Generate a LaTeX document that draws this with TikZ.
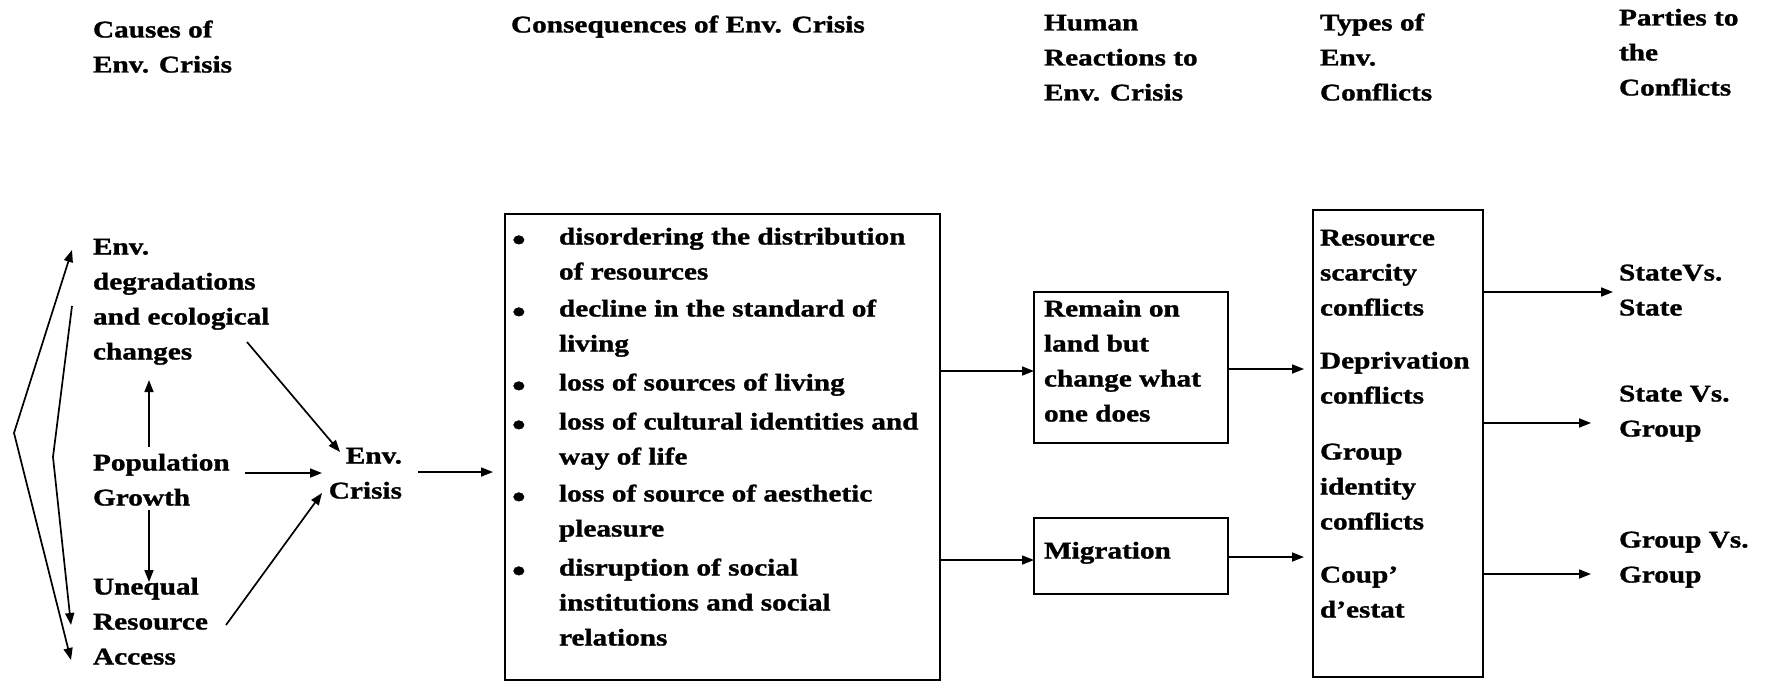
\documentclass[tikz,border=0pt]{standalone}
\usepackage{fontspec}
\setmainfont{Liberation Serif}[FakeStretch=1.22,FakeBold=1.2]
\usetikzlibrary{arrows.meta}
\begin{document}
\begin{tikzpicture}[x=1pt,y=-1pt,
  txt/.style={font=\fontsize{24}{35}\selectfont\bfseries, inner sep=0pt, outer sep=0pt, align=left, anchor=north west},
  bul/.style={font=\fontsize{32}{35}\selectfont\bfseries, inner sep=0pt, outer sep=0pt, anchor=north west},
  boxx/.style={draw, line width=1.7pt, inner sep=0pt, outer sep=0pt, anchor=north west},
  arr/.style={line width=1.7pt, -{Triangle[length=12pt,width=9pt]}},
  darr/.style={line width=1.7pt, {Triangle[length=12pt,width=9pt]}-{Triangle[length=12pt,width=9pt]}}]
\useasboundingbox (0,0) rectangle (1770,682);

% headers
\node[txt] (hc) at (93,13) {\strut Causes of\\Env. Crisis};
\node[txt] (hq) at (511,8) {\strut Consequences of Env. Crisis};
\node[txt] (hh) at (1044,6) {\strut Human\\Reactions to\\Env. Crisis};
\node[txt] (ht) at (1320,6) {\strut Types of\\Env.\\Conflicts};
\node[txt] (hp) at (1619,1) {\strut Parties to\\the\\Conflicts};

% causes
\node[txt] (deg) at (93,230) {\strut Env.\\degradations\\and ecological\\changes};
\node[txt] (pop) at (93,446) {\strut Population\\Growth};
\node[txt] (uneq) at (93,570) {\strut Unequal\\Resource\\Access};
\node[txt, align=right, anchor=north east] (crisis) at (402,439) {\strut Env.\\Crisis};

% consequences box
\node[boxx, minimum width=435pt, minimum height=466pt] (cons) at (505,214) {};
\node[bul] (b1) at (512,226) {\strut\textbullet};
\node[txt] (c1) at (559,220) {\strut disordering the distribution\\of resources};
\node[bul] (b2) at (512,298) {\strut\textbullet};
\node[txt] (c2) at (559,292) {\strut decline in the standard of\\living};
\node[bul] (b3) at (512,372) {\strut\textbullet};
\node[txt] (c3) at (559,366) {\strut loss of sources of living};
\node[bul] (b4) at (512,411) {\strut\textbullet};
\node[txt] (c4) at (559,405) {\strut loss of cultural identities and\\way of life};
\node[bul] (b5) at (512,483) {\strut\textbullet};
\node[txt] (c5) at (559,477) {\strut loss of source of aesthetic\\pleasure};
\node[bul] (b6) at (512,557) {\strut\textbullet};
\node[txt] (c6) at (559,551) {\strut disruption of social\\institutions and social\\relations};

% reactions
\node[boxx, minimum width=194pt, minimum height=151pt] (rbox) at (1034,292) {};
\node[txt] (rtxt) at (1044,292) {\strut Remain on\\land but\\change what\\one does};
\node[boxx, minimum width=194pt, minimum height=76pt] (mbox) at (1034,518) {};
\node[txt] (mtxt) at (1044,534) {\strut Migration};

% types
\node[boxx, minimum width=170pt, minimum height=467pt] (tbox) at (1313,210) {};
\node[txt] (t1) at (1320,221) {\strut Resource\\scarcity\\conflicts};
\node[txt] (t2) at (1320,344) {\strut Deprivation\\conflicts};
\node[txt] (t3) at (1320,435) {\strut Group\\identity\\conflicts};
\node[txt] (t4) at (1320,558) {\strut Coup'\\d'estat};

% parties
\node[txt] (p1) at (1619,256) {\strut StateVs.\\State};
\node[txt] (p2) at (1619,377) {\strut State Vs.\\Group};
\node[txt] (p3) at (1619,523) {\strut Group Vs.\\Group};

% left connectors
\coordinate (o1) at (72,250); \coordinate (ov) at (14,433); \coordinate (o2) at (71,660);
\draw[darr] (o1) -- (ov) -- (o2);
\coordinate (i1) at (72,306); \coordinate (iv) at (53,457); \coordinate (i2) at (71,625);
\draw[arr] (i1) -- (iv) -- (i2);
\coordinate (pu1) at (149,447); \coordinate (pu2) at (149,380);
\draw[arr] (pu1) -- (pu2);
\coordinate (pd1) at (149,510); \coordinate (pd2) at (149,582);
\draw[arr] (pd1) -- (pd2);
\coordinate (dc1) at (247,342); \coordinate (dc2) at (340,452);
\draw[arr] (dc1) -- (dc2);
\coordinate (pc1) at (245,473); \coordinate (pc2) at (322,473);
\draw[arr] (pc1) -- (pc2);
\coordinate (uc1) at (226,625); \coordinate (uc2) at (322,493);
\draw[arr] (uc1) -- (uc2);
\coordinate (cc1) at (418,472);
\draw[arr, shorten >=12pt] (cc1) -- (cons.west |- cc1);

% middle connectors
\coordinate (r1) at (940,371);
\draw[arr] (r1) -- (rbox.west |- r1);
\coordinate (m1) at (940,560);
\draw[arr] (m1) -- (mbox.west |- m1);
\coordinate (r2) at (1228,369);
\draw[arr, shorten >=9pt] (r2) -- (tbox.west |- r2);
\coordinate (m2) at (1228,557);
\draw[arr, shorten >=9pt] (m2) -- (tbox.west |- m2);

% right connectors
\coordinate (q1) at (1483,292);
\draw[arr, shorten >=6pt] (q1) -- (p1.west |- q1);
\coordinate (q2) at (1483,423);
\draw[arr, shorten >=28pt] (q2) -- (p2.west |- q2);
\coordinate (q3) at (1483,574);
\draw[arr, shorten >=28pt] (q3) -- (p3.west |- q3);
\end{tikzpicture}
\end{document}
